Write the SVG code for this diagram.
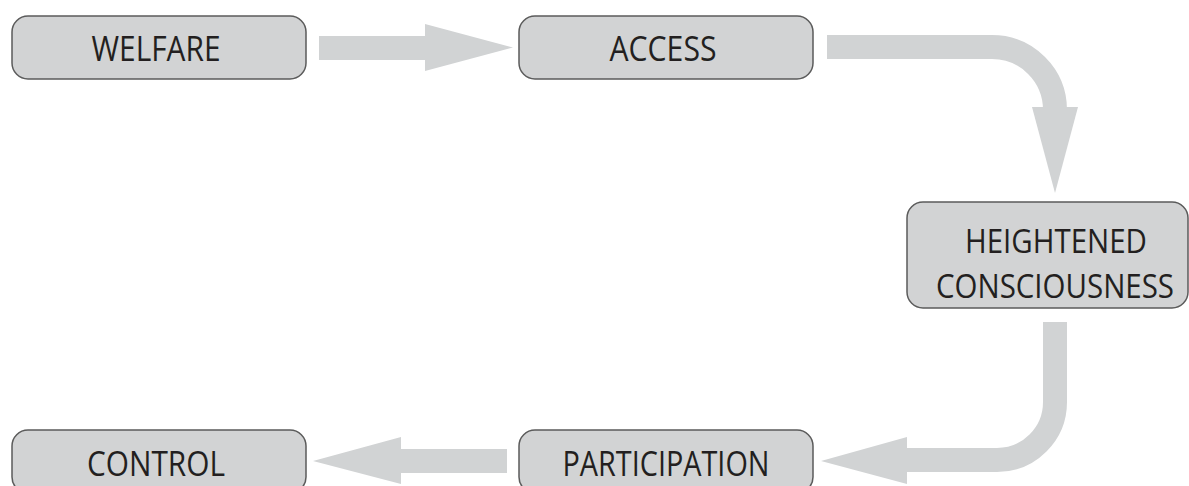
<svg xmlns="http://www.w3.org/2000/svg" width="1189" height="486" viewBox="0 0 1189 486">
<style>
.box{fill:#d2d3d4;stroke:#5b5b5b;stroke-width:1.5}
.lbl{font-family:"Open Sans","Liberation Sans",sans-serif;font-size:34px;fill:#231f20;text-anchor:middle}
.lbl2{font-size:33px}
.shaft{fill:none;stroke:#d1d3d4;stroke-width:24}
.head{fill:#d1d3d4}
</style>
<rect width="1189" height="486" fill="#ffffff"/>
<g id="connectors">
<g id="c1"><path class="shaft" d="M319 48 H426"/><polygon class="head" points="425,24 513,47.5 425,71"/></g>
<g id="c2"><path class="shaft" d="M827 47 H992 A63 63 0 0 1 1055 110"/><polygon class="head" points="1032,107 1078,107 1055,193"/></g>
<g id="c3"><path class="shaft" d="M1055 322 V402 A58 58 0 0 1 997 460 H906"/><polygon class="head" points="907,437 907,484 821,461"/></g>
<g id="c4"><path class="shaft" d="M507 461 H400"/><polygon class="head" points="401,437 401,484 313,461"/></g>
</g>
<g id="welfare"><rect class="box" x="12" y="16" width="294" height="63" rx="16"/><text class="lbl" x="156" y="61" textLength="129" lengthAdjust="spacingAndGlyphs">WELFARE</text></g>
<g id="access"><rect class="box" x="519" y="16" width="294" height="63" rx="16"/><text class="lbl" x="663" y="61" textLength="107" lengthAdjust="spacingAndGlyphs">ACCESS</text></g>
<g id="heightened"><rect class="box" x="907" y="202" width="281" height="106" rx="16"/><text class="lbl lbl2" transform="translate(1056 253) scale(0.85 1)" x="0" y="0" textLength="214" lengthAdjust="spacingAndGlyphs">HEIGHTENED</text><text class="lbl lbl2" transform="translate(1055 298) scale(0.85 1)" x="0" y="0" textLength="280" lengthAdjust="spacingAndGlyphs">CONSCIOUSNESS</text></g>
<g id="control"><rect class="box" x="12" y="430" width="294" height="63" rx="16"/><text class="lbl" x="156" y="476" textLength="138" lengthAdjust="spacingAndGlyphs">CONTROL</text></g>
<g id="participation"><rect class="box" x="519" y="430" width="294" height="63" rx="16"/><text class="lbl" x="666" y="476" textLength="207" lengthAdjust="spacingAndGlyphs">PARTICIPATION</text></g>
</svg>
